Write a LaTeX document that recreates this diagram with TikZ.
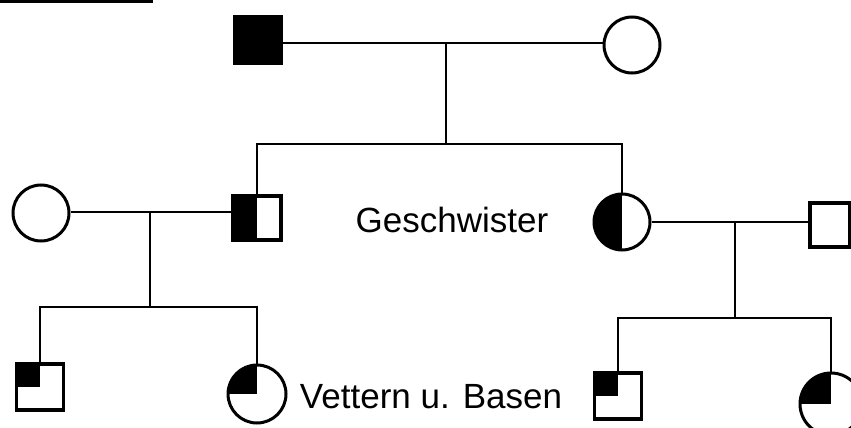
\documentclass[tikz,border=0pt]{standalone}
\usepackage{fontspec}
\setmainfont{Liberation Sans}
\usepackage{tikz}
\usetikzlibrary{positioning,calc}

\begin{document}
\begin{tikzpicture}[
    x=1pt, y=-1pt,
    male/.style={rectangle, draw, line width=3.4pt, minimum width=47pt, minimum height=46pt, inner sep=0pt},
    female/.style={circle, draw, line width=3pt, minimum size=56pt, inner sep=0pt},
    halfleft/.style={path picture={\fill (path picture bounding box.south west) rectangle (path picture bounding box.north);}},
    quarter/.style={path picture={\fill (path picture bounding box.north west) rectangle (path picture bounding box.center);}},
    label/.style={font=\fontsize{35}{40}\selectfont, inner sep=0pt},
    line/.style={line width=2.8pt}
]
\useasboundingbox (0,0) rectangle (851,428);
\fill (0,0) rectangle (153,3);

% Nodes
\node[male, fill=black] (grandpa) at (258,40) {};
\node[female] (grandma) at (632,45) {};
\node[male, halfleft, minimum width=48pt, minimum height=44pt] (son) at (257,218) {};
\node[female, halfleft] (daughter) at (622,222) {};
\node[female] (wife) at (41,213) {};
\node[male, minimum width=40pt, minimum height=44pt] (husband) at (830,225) {};
\node[male, quarter] (cousinA) at (40,387) {};
\node[female, quarter, minimum size=58pt] (cousinB) at (257,394) {};
\node[male, quarter] (cousinC) at (618,396) {};
\node[female, quarter, minimum size=62pt] (cousinD) at (831,404) {};

\node[label, anchor=base] (siblings) at (452,232) {Geschwister};
\node[label, anchor=base] (cousins) at (431,408) {Vettern u. Basen};

% Coordinates
\coordinate (m1) at (446,43);
\coordinate (s1) at (446,144);
\coordinate (m2) at (150,212);
\coordinate (s2) at (150,307);
\coordinate (m3) at (735,222);
\coordinate (s3) at (735,318);

% Lines
\draw[line] (grandpa.east |- m1) -- (grandma.west |- m1);
\draw[line] (m1) -- (s1);
\draw[line] (son.north) -- (son.north |- s1) -- (daughter.north |- s1) -- (daughter.north);

\draw[line] (wife.east |- m2) -- (son.west |- m2);
\draw[line] (m2) -- (s2);
\draw[line] (cousinA.north) -- (cousinA.north |- s2) -- (cousinB.north |- s2) -- (cousinB.north);

\draw[line] (daughter.east |- m3) -- (husband.west |- m3);
\draw[line] (m3) -- (s3);
\draw[line] (cousinC.north) -- (cousinC.north |- s3) -- (cousinD.north |- s3) -- (cousinD.north);

\end{tikzpicture}
\end{document}
